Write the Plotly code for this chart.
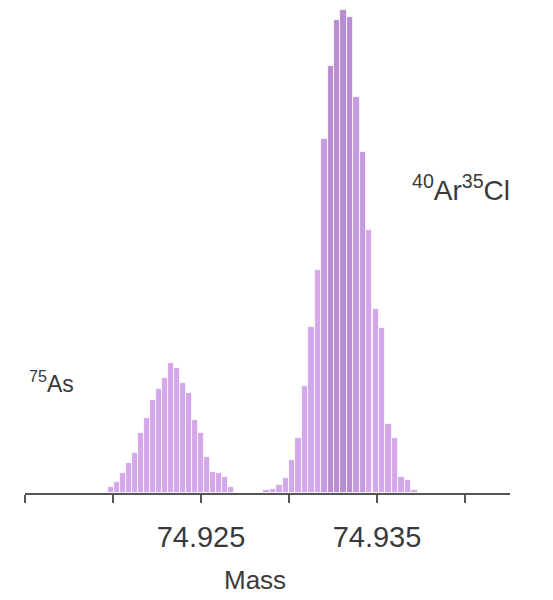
import plotly.graph_objects as go

# Small peak (75As)
as_mass = [74.91988, 74.92022, 74.92056, 74.92090, 74.92124, 74.92158, 74.92192,
           74.92226, 74.92260, 74.92294, 74.92328, 74.92362, 74.92396, 74.92430,
           74.92464, 74.92498, 74.92532, 74.92566, 74.92600, 74.92634, 74.92668]
as_int = [1.2, 2.3, 4.1, 6.2, 8.2, 12.4, 15.5, 19.2, 21.6, 23.9, 27.0, 26.0, 22.7,
          20.8, 15.1, 12.4, 7.4, 4.3, 4.1, 3.3, 1.2]

# Large peak (40Ar35Cl)
arcl_mass = [74.92872, 74.92909, 74.92945, 74.92982, 74.93018, 74.93055, 74.93091,
             74.93128, 74.93164, 74.93201, 74.93237, 74.93274, 74.93310, 74.93347,
             74.93383, 74.93420, 74.93456, 74.93493, 74.93529, 74.93566, 74.93602,
             74.93639, 74.93675, 74.93712]
arcl_int = [0.6, 0.8, 1.6, 3.1, 6.8, 11.3, 22.1, 34.4, 46.2, 73.4, 88.5, 98.1, 100.0,
            98.6, 82.1, 70.7, 54.6, 38.1, 34.2, 14.4, 11.3, 3.3, 2.7, 0.6]

tick_vals = [74.915, 74.920, 74.925, 74.930, 74.935, 74.940]
tick_text = ["", "", "74.925", "", "74.935", ""]

light = "#d4a6ea"
mid = "#c69ade"
dark = "#b88ccf"

as_colors = [light] * len(as_int)
arcl_colors = [light] * len(arcl_int)
for i in (9, 14, 15):
    arcl_colors[i] = mid
for i in (10, 11, 12, 13):
    arcl_colors[i] = dark

fig = go.Figure()
fig.add_trace(go.Bar(x=as_mass, y=as_int, width=0.00034,
                     marker=dict(color=as_colors, line=dict(color="white", width=0.8)),
                     showlegend=False))
fig.add_trace(go.Bar(x=arcl_mass, y=arcl_int, width=0.000365,
                     marker=dict(color=arcl_colors, line=dict(color="white", width=0.8)),
                     showlegend=False))

fig.update_layout(
    width=545, height=592,
    margin=dict(l=17, r=43, t=0, b=107),
    paper_bgcolor="white", plot_bgcolor="white",
    bargap=0,
    font=dict(family="Liberation Sans, Arial, sans-serif", color="#3a3a3a"),
    xaxis=dict(range=[74.915, 74.942557], tickvals=tick_vals, ticktext=tick_text,
               ticks="outside", ticklen=8, tickwidth=2, tickcolor="#555",
               showline=True, linecolor="#555", linewidth=2,
               showgrid=False, zeroline=False,
               tickfont=dict(size=29, color="#3a3a3a"), ticklabelstandoff=9),
    yaxis=dict(visible=False, range=[0, 100.5]),
    annotations=[
        dict(text="Mass", xref="paper", yref="paper", x=0.474, y=-0.179,
             xanchor="center", yanchor="middle", showarrow=False,
             font=dict(size=26, color="#3a3a3a")),
        dict(text="<sup>75</sup>As", xref="paper", yref="paper", x=0.004, y=0.229,
             xanchor="left", yanchor="middle", showarrow=False,
             font=dict(size=23, color="#3a3a3a")),
        dict(text="<sup>40</sup>Ar<sup>35</sup>Cl", xref="paper", yref="paper",
             x=0.794, y=0.629,
             xanchor="left", yanchor="middle", showarrow=False,
             font=dict(size=28, color="#3a3a3a")),
    ],
)

fig.write_html("out.html")
